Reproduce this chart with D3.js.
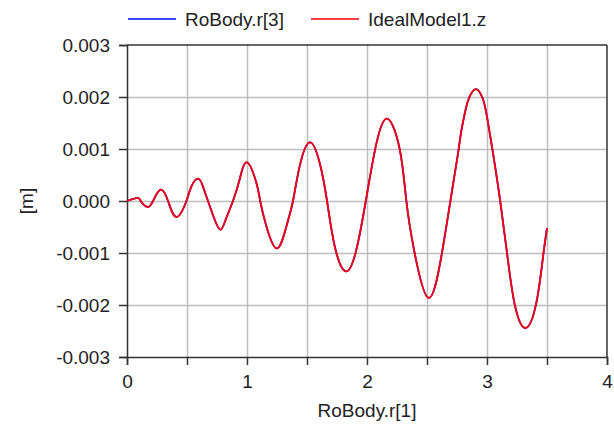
<!DOCTYPE html>
<html>
<head>
<meta charset="utf-8">
<script src="https://cdn.jsdelivr.net/npm/d3@7"></script>
<style>
  body { margin: 0; background: #fff; }
  text { font-family: "Liberation Sans", Arial, sans-serif; fill: #222; }
  .grid line { stroke: #bdbdbd; stroke-width: 1.5px; }
</style>
</head>
<body>
<div id="chart"></div>
<script>
  // values
  var xValues = [0, 0.087, 0.114, 0.17, 0.217, 0.28, 0.342, 0.412, 0.495, 0.537,
    0.592, 0.633, 0.675, 0.731, 0.78, 0.822, 0.883, 0.939, 1.0, 1.078,
    1.11, 1.162, 1.25, 1.328, 1.383, 1.439, 1.523, 1.606, 1.667, 1.731,
    1.823, 1.911, 1.99, 2.064, 2.162, 2.273, 2.328, 2.397, 2.514, 2.62,
    2.695, 2.759, 2.786, 2.822, 2.85, 2.906, 2.961, 2.995, 3.05, 3.11,
    3.167, 3.231, 3.322, 3.411, 3.467, 3.5]
  var idealZ = [0, 0.00006, 0, -0.000115, 0, 0.000217, 0, -0.000308, 0, 0.00028,
    0.000429, 0.00028, 0, -0.00036, -0.000552, -0.00036, 0, 0.00042, 0.000742, 0.00035,
    0, -0.00049, -0.000912, -0.00049, 0, 0.00067, 0.001127, 0.00073, 0, -0.00087,
    -0.001354, -0.00094, 0, 0.00095, 0.001583, 0.00099, 0, -0.001, -0.001865, -0.00106,
    0, 0.00092, 0.00135, 0.00176, 0.00198, 0.00215, 0.00199, 0.00168, 0.00092, 0,
    -0.001, -0.00199, -0.002442, -0.00196, -0.00107, -0.00052]
  // RoBody.r[3] lies under IdealModel1.z in the picture
  var roBodyZ = idealZ.slice()
  var seriesNames = ["RoBody.r[3]", "IdealModel1.z"]
  var seriesColors = ["#0000ff", "#ff0000"]
  var xTicks = [0, 1, 2, 3, 4]
  var xMinorTicks = [0, 0.5, 1, 1.5, 2, 2.5, 3, 3.5, 4]
  var yTicks = [-0.003, -0.002, -0.001, 0, 0.001, 0.002, 0.003]

  var width = 614, height = 426
  var margin = {top: 45, right: 7, bottom: 69, left: 127}

  var svg = d3.select("#chart").append("svg")
    .attr("width", width)
    .attr("height", height)

  var x = d3.scaleLinear().domain([0, 4]).range([margin.left, width - margin.right])
  var y = d3.scaleLinear().domain([-0.003, 0.003]).range([height - margin.bottom, margin.top])

  // grid, drawn with the axis generators stretched over the plot
  svg.append("g")
    .attr("class", "grid")
    .attr("transform", "translate(0," + y(-0.003) + ")")
    .call(d3.axisBottom(x).tickValues(xMinorTicks.slice(1, -1)).tickSize(-(y(-0.003) - y(0.003))).tickFormat(""))
    .select(".domain").remove()
  svg.append("g")
    .attr("class", "grid")
    .attr("transform", "translate(" + x(0) + ",0)")
    .call(d3.axisLeft(y).tickValues(yTicks.slice(1, -1)).tickSize(-(x(4) - x(0))).tickFormat(""))
    .select(".domain").remove()

  // axes
  var fmtX = function(d) { return xTicks.indexOf(d) >= 0 ? String(d) : "" }
  var fmtY = function(d) { return d3.format(".3f")(d).replace("\u2212", "-") }

  var xAxis = svg.append("g")
    .attr("class", "axis")
    .attr("transform", "translate(0," + y(-0.003) + ")")
    .call(d3.axisBottom(x).tickValues(xMinorTicks).tickSize(8).tickFormat(fmtX))
  xAxis.selectAll("text").attr("font-size", 19).attr("dy", "1.05em")

  var yAxis = svg.append("g")
    .attr("class", "axis")
    .attr("transform", "translate(" + x(0) + ",0)")
    .call(d3.axisLeft(y).tickValues(yTicks).tickSize(8).tickPadding(9).tickFormat(fmtY))
  yAxis.selectAll("text").attr("font-size", 19)

  xAxis.attr("font-family", null)
  yAxis.attr("font-family", null)
  svg.selectAll(".axis .domain").attr("stroke", "#333").attr("stroke-width", 1.5)
  svg.selectAll(".axis .tick line").attr("stroke", "#333").attr("stroke-width", 1.5)

  // top and right frame
  svg.append("line")
    .attr("x1", x(0)).attr("x2", x(4)).attr("y1", y(0.003)).attr("y2", y(0.003))
    .attr("stroke", "#333").attr("stroke-width", 1.5)
  svg.append("line")
    .attr("x1", x(4)).attr("x2", x(4)).attr("y1", y(0.003)).attr("y2", y(-0.003))
    .attr("stroke", "#333").attr("stroke-width", 1.5)

  // curves
  var lineGen = d3.line()
    .x(function(d) { return x(d[0]) })
    .y(function(d) { return y(d[1]) })
    .curve(d3.curveNatural)

  var seriesData = [roBodyZ, idealZ]
  seriesData.forEach(function(vals, i) {
    svg.append("path")
      .datum(xValues.map(function(v, j) { return [v, vals[j]] }))
      .attr("d", lineGen)
      .attr("fill", "none")
      .attr("stroke", seriesColors[i])
      .attr("stroke-width", 1.8)
  })

  // legend
  var legendX = [128, 311]
  seriesNames.forEach(function(name, i) {
    svg.append("line")
      .attr("x1", legendX[i]).attr("x2", legendX[i] + 48)
      .attr("y1", 19).attr("y2", 19)
      .attr("stroke", seriesColors[i]).attr("stroke-width", 1.5)
    svg.append("text")
      .attr("x", legendX[i] + 57).attr("y", 26)
      .attr("font-size", 19)
      .text(name)
  })

  // axis titles
  svg.append("text")
    .attr("x", (x(0) + x(4)) / 2).attr("y", 417)
    .attr("text-anchor", "middle").attr("font-size", 19)
    .text("RoBody.r[1]")

  svg.append("text")
    .attr("transform", "translate(33," + y(0) + ") rotate(-90)")
    .attr("text-anchor", "middle").attr("font-size", 19)
    .text("[m]")
</script>
</body>
</html>
